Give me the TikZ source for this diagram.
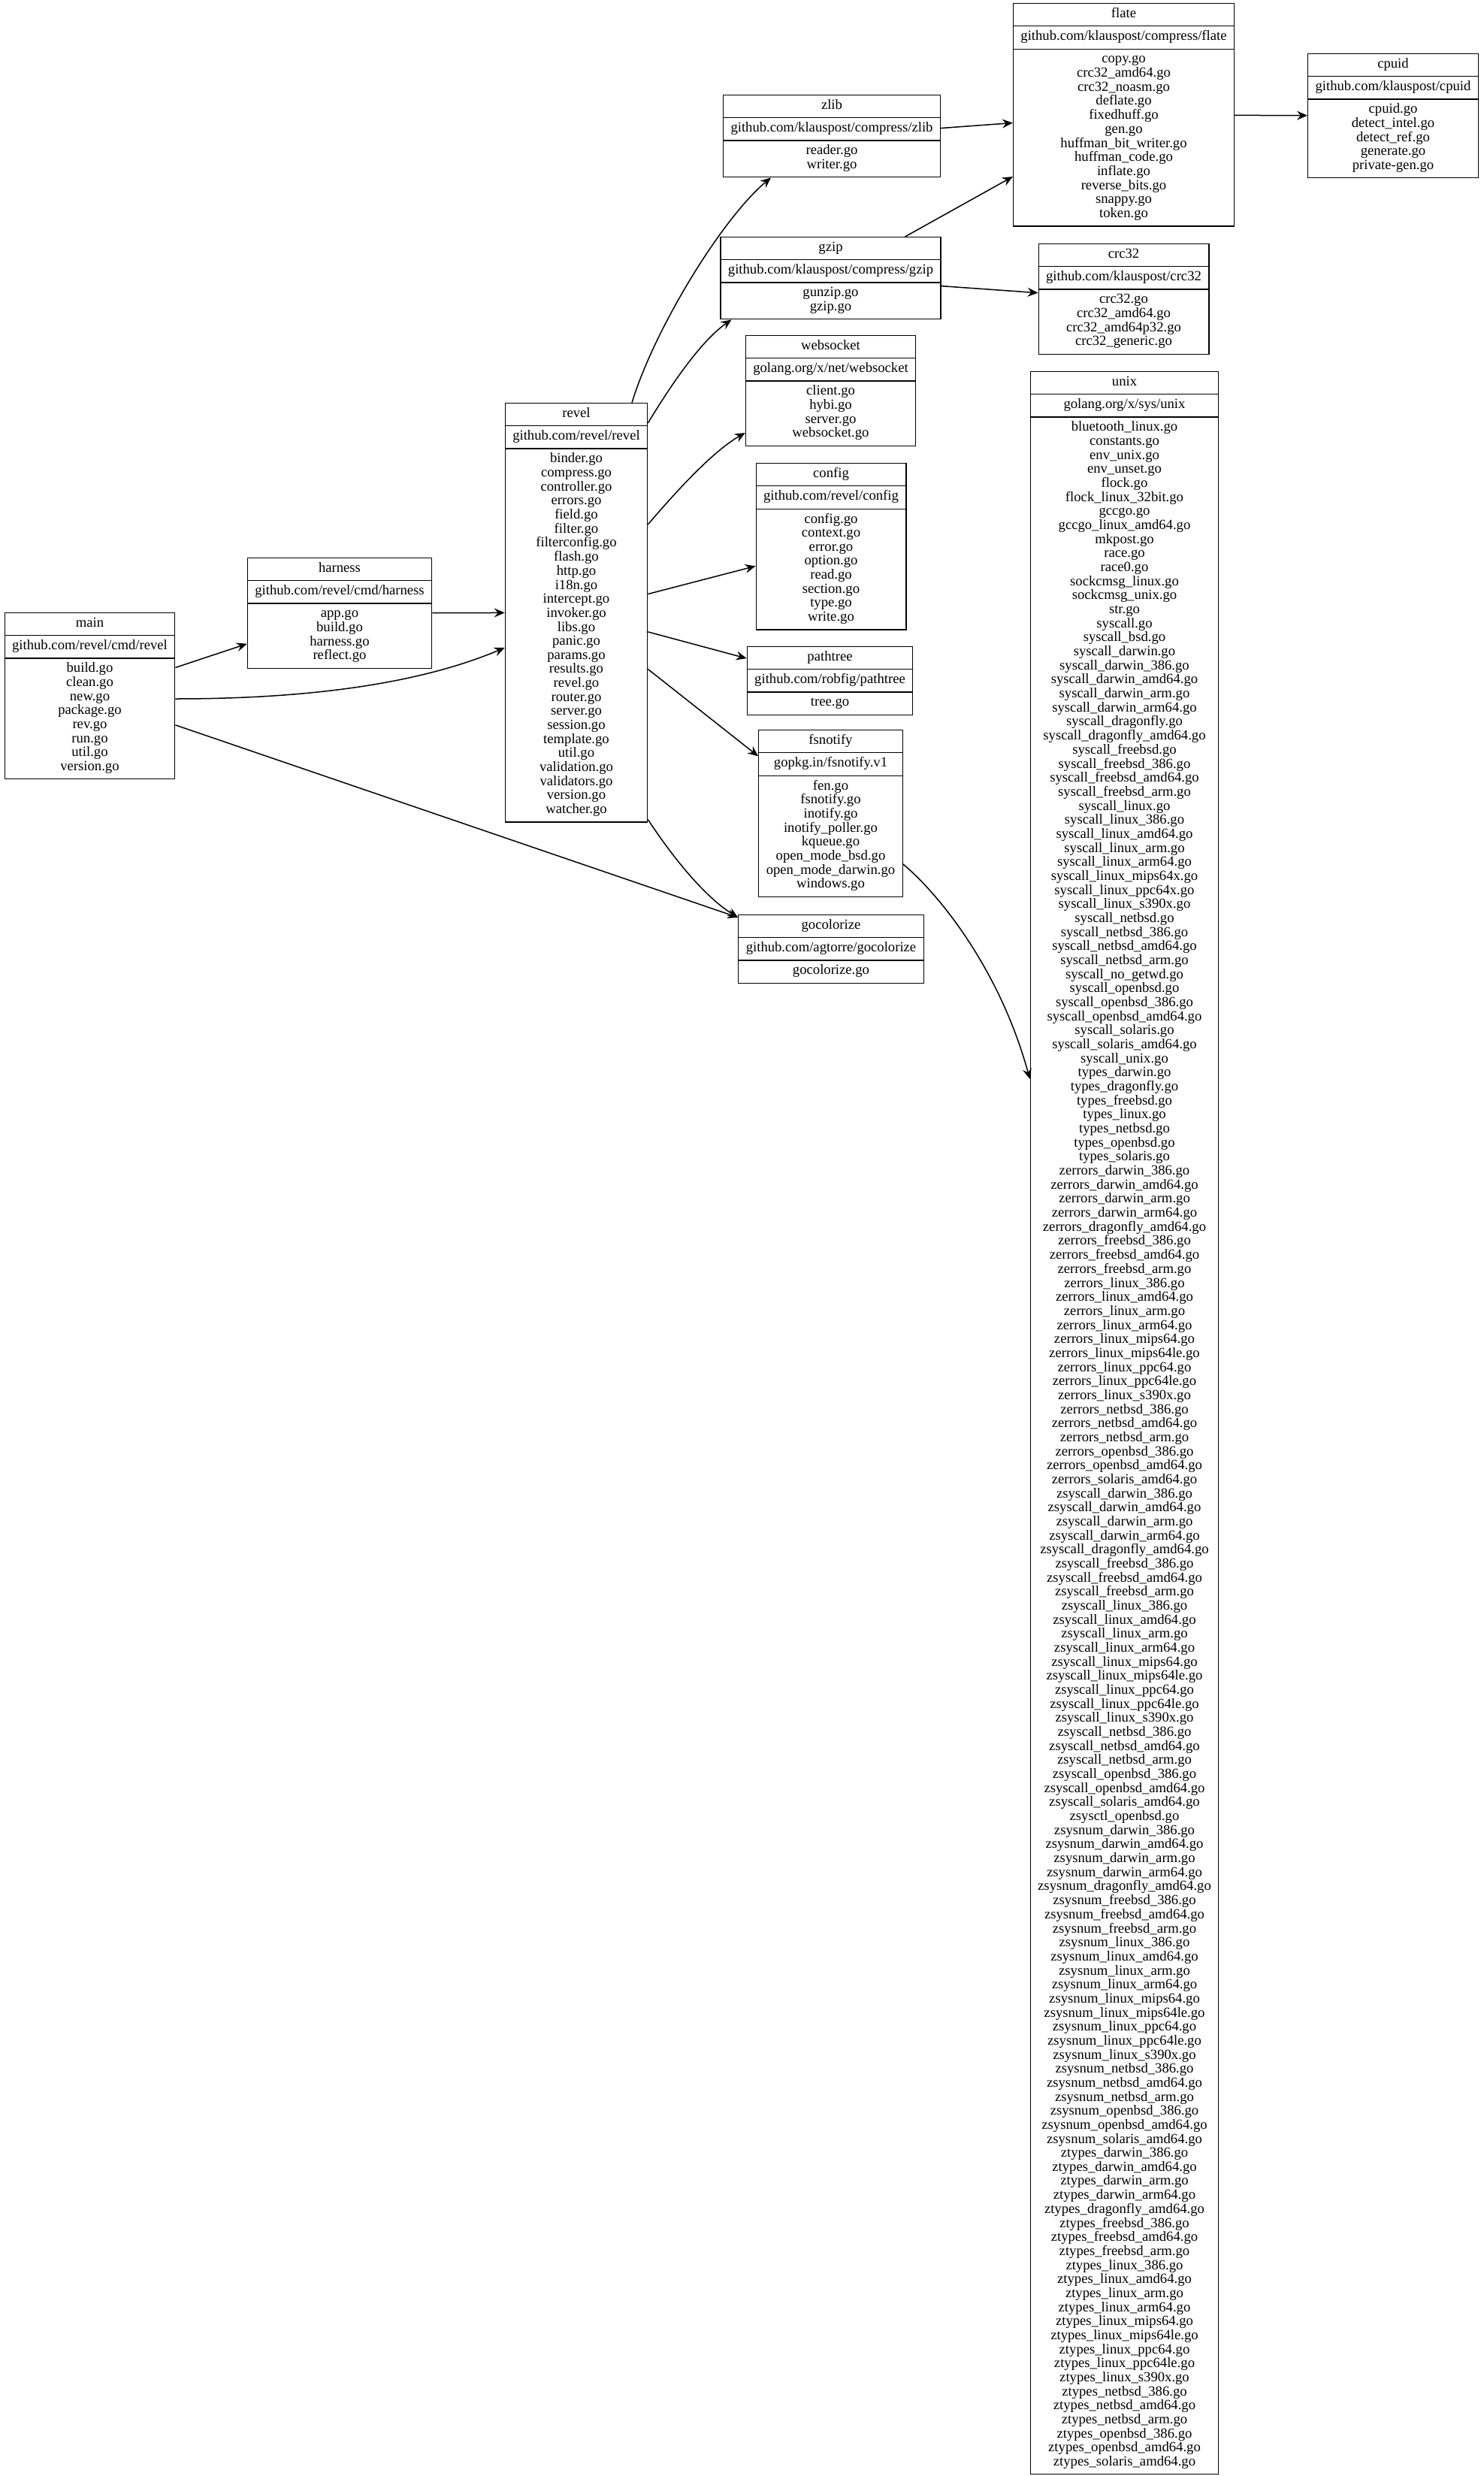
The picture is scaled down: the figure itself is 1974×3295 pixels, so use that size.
\documentclass[tikz,border=0pt]{standalone}
\usepackage{fontspec}
\setmainfont{Liberation Serif}
\usepackage{tikz}
\usetikzlibrary{shapes.multipart,arrows.meta,calc}
\newcommand{\pkgfont}{\fontsize{9.33}{9.33}\selectfont}
\newcommand{\pkgpart}[1]{{\pkgfont\begin{tabular}{@{}c@{}}#1\end{tabular}}}

\begin{document}
\begin{tikzpicture}[x=0.5pt,y=-0.5pt,
  pkg/.style={rectangle split, rectangle split parts=3, draw=black,
              rectangle split draw splits=false,
              line width=0.6pt, inner xsep=5pt, inner ysep=2.58pt,
              anchor=north, font=\pkgfont},
  dep/.style={draw=black,line width=0.75pt,-{Stealth[length=7pt,width=6pt,inset=2.5pt]}}
]
  \fill[white] (0,0) rectangle (1974,3295);

  \node[pkg] (main) at (119.5,815) {\pkgpart{main}\nodepart{two}\pkgpart{github.com/revel/cmd/revel}%
    \nodepart{three}\pkgpart{build.go\\clean.go\\new.go\\package.go\\rev.go\\run.go\\util.go\\version.go}};

  \node[pkg] (harness) at (452,742) {\pkgpart{harness}\nodepart{two}\pkgpart{github.com/revel/cmd/harness}%
    \nodepart{three}\pkgpart{app.go\\build.go\\harness.go\\reflect.go}};

  \node[pkg] (revel) at (767,536) {\pkgpart{revel}\nodepart{two}\pkgpart{github.com/revel/revel}%
    \nodepart{three}\pkgpart{binder.go\\compress.go\\controller.go\\errors.go\\field.go\\filter.go\\%
      filterconfig.go\\flash.go\\http.go\\i18n.go\\intercept.go\\invoker.go\\libs.go\\panic.go\\%
      params.go\\results.go\\revel.go\\router.go\\server.go\\session.go\\template.go\\util.go\\%
      validation.go\\validators.go\\version.go\\watcher.go}};

  \node[pkg] (zlib) at (1107,126) {\pkgpart{zlib}\nodepart{two}\pkgpart{github.com/klauspost/compress/zlib}%
    \nodepart{three}\pkgpart{reader.go\\writer.go}};

  \node[pkg] (gzip) at (1105.5,315) {\pkgpart{gzip}\nodepart{two}\pkgpart{github.com/klauspost/compress/gzip}%
    \nodepart{three}\pkgpart{gunzip.go\\gzip.go}};

  \node[pkg] (websocket) at (1105.5,446) {\pkgpart{websocket}\nodepart{two}\pkgpart{golang.org/x/net/websocket}%
    \nodepart{three}\pkgpart{client.go\\hybi.go\\server.go\\websocket.go}};

  \node[pkg] (config) at (1106,616) {\pkgpart{config}\nodepart{two}\pkgpart{github.com/revel/config}%
    \nodepart{three}\pkgpart{config.go\\context.go\\error.go\\option.go\\read.go\\section.go\\type.go\\write.go}};

  \node[pkg] (pathtree) at (1104.5,860) {\pkgpart{pathtree}\nodepart{two}\pkgpart{github.com/robfig/pathtree}%
    \nodepart{three}\pkgpart{tree.go}};

  \node[pkg] (fsnotify) at (1105.5,971) {\pkgpart{fsnotify}\nodepart{two}\pkgpart{gopkg.in/fsnotify.v1}%
    \nodepart{three}\pkgpart{fen.go\\fsnotify.go\\inotify.go\\inotify\_poller.go\\kqueue.go\\%
      open\_mode\_bsd.go\\open\_mode\_darwin.go\\windows.go}};

  \node[pkg] (gocolorize) at (1106,1217) {\pkgpart{gocolorize}\nodepart{two}\pkgpart{github.com/agtorre/gocolorize}%
    \nodepart{three}\pkgpart{gocolorize.go}};

  \node[pkg] (flate) at (1495.5,4) {\pkgpart{flate}\nodepart{two}\pkgpart{github.com/klauspost/compress/flate}%
    \nodepart{three}\pkgpart{copy.go\\crc32\_amd64.go\\crc32\_noasm.go\\deflate.go\\fixedhuff.go\\gen.go\\%
      huffman\_bit\_writer.go\\huffman\_code.go\\inflate.go\\reverse\_bits.go\\snappy.go\\token.go}};

  \node[pkg] (crc32) at (1495.5,324) {\pkgpart{crc32}\nodepart{two}\pkgpart{github.com/klauspost/crc32}%
    \nodepart{three}\pkgpart{crc32.go\\crc32\_amd64.go\\crc32\_amd64p32.go\\crc32\_generic.go}};

  \node[pkg] (cpuid) at (1854,71) {\pkgpart{cpuid}\nodepart{two}\pkgpart{github.com/klauspost/cpuid}%
    \nodepart{three}\pkgpart{cpuid.go\\detect\_intel.go\\detect\_ref.go\\generate.go\\private-gen.go}};

  \node[pkg] (unix) at (1496.5,494) {\pkgpart{unix}\nodepart{two}\pkgpart{golang.org/x/sys/unix}%
    \nodepart{three}\pkgpart{bluetooth\_linux.go\\constants.go\\env\_unix.go\\env\_unset.go\\flock.go\\%
      flock\_linux\_32bit.go\\gccgo.go\\gccgo\_linux\_amd64.go\\mkpost.go\\race.go\\race0.go\\%
      sockcmsg\_linux.go\\sockcmsg\_unix.go\\str.go\\syscall.go\\syscall\_bsd.go\\syscall\_darwin.go\\%
      syscall\_darwin\_386.go\\syscall\_darwin\_amd64.go\\syscall\_darwin\_arm.go\\syscall\_darwin\_arm64.go\\%
      syscall\_dragonfly.go\\syscall\_dragonfly\_amd64.go\\syscall\_freebsd.go\\syscall\_freebsd\_386.go\\%
      syscall\_freebsd\_amd64.go\\syscall\_freebsd\_arm.go\\syscall\_linux.go\\syscall\_linux\_386.go\\%
      syscall\_linux\_amd64.go\\syscall\_linux\_arm.go\\syscall\_linux\_arm64.go\\syscall\_linux\_mips64x.go\\%
      syscall\_linux\_ppc64x.go\\syscall\_linux\_s390x.go\\syscall\_netbsd.go\\syscall\_netbsd\_386.go\\%
      syscall\_netbsd\_amd64.go\\syscall\_netbsd\_arm.go\\syscall\_no\_getwd.go\\syscall\_openbsd.go\\%
      syscall\_openbsd\_386.go\\syscall\_openbsd\_amd64.go\\syscall\_solaris.go\\syscall\_solaris\_amd64.go\\%
      syscall\_unix.go\\types\_darwin.go\\types\_dragonfly.go\\types\_freebsd.go\\types\_linux.go\\%
      types\_netbsd.go\\types\_openbsd.go\\types\_solaris.go\\zerrors\_darwin\_386.go\\%
      zerrors\_darwin\_amd64.go\\zerrors\_darwin\_arm.go\\zerrors\_darwin\_arm64.go\\%
      zerrors\_dragonfly\_amd64.go\\zerrors\_freebsd\_386.go\\zerrors\_freebsd\_amd64.go\\%
      zerrors\_freebsd\_arm.go\\zerrors\_linux\_386.go\\zerrors\_linux\_amd64.go\\zerrors\_linux\_arm.go\\%
      zerrors\_linux\_arm64.go\\zerrors\_linux\_mips64.go\\zerrors\_linux\_mips64le.go\\%
      zerrors\_linux\_ppc64.go\\zerrors\_linux\_ppc64le.go\\zerrors\_linux\_s390x.go\\%
      zerrors\_netbsd\_386.go\\zerrors\_netbsd\_amd64.go\\zerrors\_netbsd\_arm.go\\%
      zerrors\_openbsd\_386.go\\zerrors\_openbsd\_amd64.go\\zerrors\_solaris\_amd64.go\\%
      zsyscall\_darwin\_386.go\\zsyscall\_darwin\_amd64.go\\zsyscall\_darwin\_arm.go\\%
      zsyscall\_darwin\_arm64.go\\zsyscall\_dragonfly\_amd64.go\\zsyscall\_freebsd\_386.go\\%
      zsyscall\_freebsd\_amd64.go\\zsyscall\_freebsd\_arm.go\\zsyscall\_linux\_386.go\\%
      zsyscall\_linux\_amd64.go\\zsyscall\_linux\_arm.go\\zsyscall\_linux\_arm64.go\\%
      zsyscall\_linux\_mips64.go\\zsyscall\_linux\_mips64le.go\\zsyscall\_linux\_ppc64.go\\%
      zsyscall\_linux\_ppc64le.go\\zsyscall\_linux\_s390x.go\\zsyscall\_netbsd\_386.go\\%
      zsyscall\_netbsd\_amd64.go\\zsyscall\_netbsd\_arm.go\\zsyscall\_openbsd\_386.go\\%
      zsyscall\_openbsd\_amd64.go\\zsyscall\_solaris\_amd64.go\\zsysctl\_openbsd.go\\%
      zsysnum\_darwin\_386.go\\zsysnum\_darwin\_amd64.go\\zsysnum\_darwin\_arm.go\\%
      zsysnum\_darwin\_arm64.go\\zsysnum\_dragonfly\_amd64.go\\zsysnum\_freebsd\_386.go\\%
      zsysnum\_freebsd\_amd64.go\\zsysnum\_freebsd\_arm.go\\zsysnum\_linux\_386.go\\%
      zsysnum\_linux\_amd64.go\\zsysnum\_linux\_arm.go\\zsysnum\_linux\_arm64.go\\%
      zsysnum\_linux\_mips64.go\\zsysnum\_linux\_mips64le.go\\zsysnum\_linux\_ppc64.go\\%
      zsysnum\_linux\_ppc64le.go\\zsysnum\_linux\_s390x.go\\zsysnum\_netbsd\_386.go\\%
      zsysnum\_netbsd\_amd64.go\\zsysnum\_netbsd\_arm.go\\zsysnum\_openbsd\_386.go\\%
      zsysnum\_openbsd\_amd64.go\\zsysnum\_solaris\_amd64.go\\ztypes\_darwin\_386.go\\%
      ztypes\_darwin\_amd64.go\\ztypes\_darwin\_arm.go\\ztypes\_darwin\_arm64.go\\%
      ztypes\_dragonfly\_amd64.go\\ztypes\_freebsd\_386.go\\ztypes\_freebsd\_amd64.go\\%
      ztypes\_freebsd\_arm.go\\ztypes\_linux\_386.go\\ztypes\_linux\_amd64.go\\ztypes\_linux\_arm.go\\%
      ztypes\_linux\_arm64.go\\ztypes\_linux\_mips64.go\\ztypes\_linux\_mips64le.go\\%
      ztypes\_linux\_ppc64.go\\ztypes\_linux\_ppc64le.go\\ztypes\_linux\_s390x.go\\%
      ztypes\_netbsd\_386.go\\ztypes\_netbsd\_amd64.go\\ztypes\_netbsd\_arm.go\\%
      ztypes\_openbsd\_386.go\\ztypes\_openbsd\_amd64.go\\ztypes\_solaris\_amd64.go}};

  \foreach \n in {main,harness,revel,zlib,gzip,websocket,config,pathtree,fsnotify,gocolorize,flate,crc32,cpuid,unix}
    \draw[line width=0.6pt] (\n.one split west) -- (\n.one split east) (\n.two split west) -- (\n.two split east);

  \draw[dep] (main) -- (harness);
  \draw[dep] ($(main.north east)+(0,115)$) .. controls +(217,0) and +(-90,38) .. ($(revel.north west)+(0,326)$);
  \draw[dep] (main) -- (gocolorize);
  \draw[dep] (harness) -- (revel);
  \draw[dep] ($(revel.north)+(74,0)$) .. controls +(29,-96) and +(-66,55) .. ($(zlib.south)+(-81,0)$);
  \draw[dep] ($(revel.north east)+(0,27)$) .. controls +(26,-43) and +(-43,30) .. ($(gzip.south)+(-132,0)$);
  \draw[dep] ($(revel.north east)+(0,162)$) .. controls +(41,-48) and +(-42,24) .. ($(websocket.north west)+(0,130)$);
  \draw[dep] (revel) -- (config);
  \draw[dep] (revel) -- (pathtree);
  \draw[dep] (revel) -- (fsnotify);
  \draw[dep] ($(revel.south east)+(0,-4)$) .. controls +(36,55) and +(-42,-26) .. ($(gocolorize.north west)+(0,4)$);
  \draw[dep] (zlib) -- (flate);
  \draw[dep] (gzip) -- (flate);
  \draw[dep] (gzip) -- (crc32);
  \draw[dep] (flate) -- (cpuid);
  \draw[dep] ($(fsnotify.north east)+(0,179)$) .. controls +(48,40) and +(-40,-146) .. ($(unix.north west)+(0,942)$);

\end{tikzpicture}
\end{document}
